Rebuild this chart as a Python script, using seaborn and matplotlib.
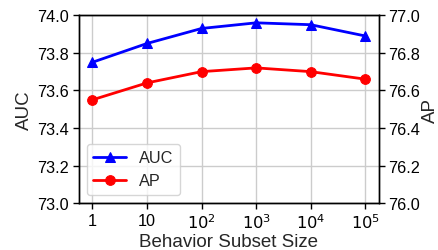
import matplotlib
matplotlib.use("Agg")
import matplotlib.pyplot as plt
import seaborn as sns
import pandas as pd

sizes = ["1", "10", "$10^2$", "$10^3$", "$10^4$", "$10^5$"]
auc = [73.75, 73.85, 73.93, 73.96, 73.95, 73.89]
ap = [76.55, 76.64, 76.70, 76.72, 76.70, 76.66]

sns.set_style("ticks")
plt.rcParams['font.family'] = ['Liberation Sans', 'DejaVu Sans']
plt.rcParams['mathtext.fontset'] = 'dejavusans'

df = pd.DataFrame({"pos": range(len(sizes)), "AUC": auc, "AP": ap})

fig, ax = plt.subplots(figsize=(4.38, 2.51), dpi=100)
ax2 = ax.twinx()

sns.lineplot(data=df, x="pos", y="AUC", ax=ax, color="blue", marker="^",
             markersize=7, markeredgecolor="blue", linewidth=2, label="AUC", legend=False)
sns.lineplot(data=df, x="pos", y="AP", ax=ax2, color="red", marker="o",
             markersize=7, markeredgecolor="red", linewidth=2, label="AP", legend=False)

ax.set_ylim(73.0, 74.0)
ax2.set_ylim(76.0, 77.0)
ax.set_yticks([73.0, 73.2, 73.4, 73.6, 73.8, 74.0])
ax2.set_yticks([76.0, 76.2, 76.4, 76.6, 76.8, 77.0])
ax.set_yticklabels([f"{v:.1f}" for v in ax.get_yticks()])
ax2.set_yticklabels([f"{v:.1f}" for v in ax2.get_yticks()])
ax.set_xticks(range(len(sizes)))
ax.set_xticklabels(sizes)
ax.set_xlim(-0.25, 5.25)

ax.grid(True, color="#cccccc", linewidth=1)
ax.set_xlabel("Behavior Subset Size", fontsize=13.5, labelpad=1)
ax.set_ylabel("AUC", fontsize=13.5, labelpad=3)
ax2.set_ylabel("AP", fontsize=13.5, labelpad=1)
for a in (ax, ax2):
    a.tick_params(labelsize=11.7, width=1, length=4, colors="black", pad=3)
    for s in a.spines.values():
        s.set_visible(True)
        s.set_color("black")
        s.set_linewidth(1)

h1, l1 = ax.get_legend_handles_labels()
h2, l2 = ax2.get_legend_handles_labels()
ax2.legend(h1 + h2, l1 + l2, loc="lower left", fontsize=11.7, bbox_to_anchor=(0.0, 0.0))

plt.subplots_adjust(left=0.18, right=0.865, top=0.935, bottom=0.187)
plt.savefig("out.png", dpi=100)
